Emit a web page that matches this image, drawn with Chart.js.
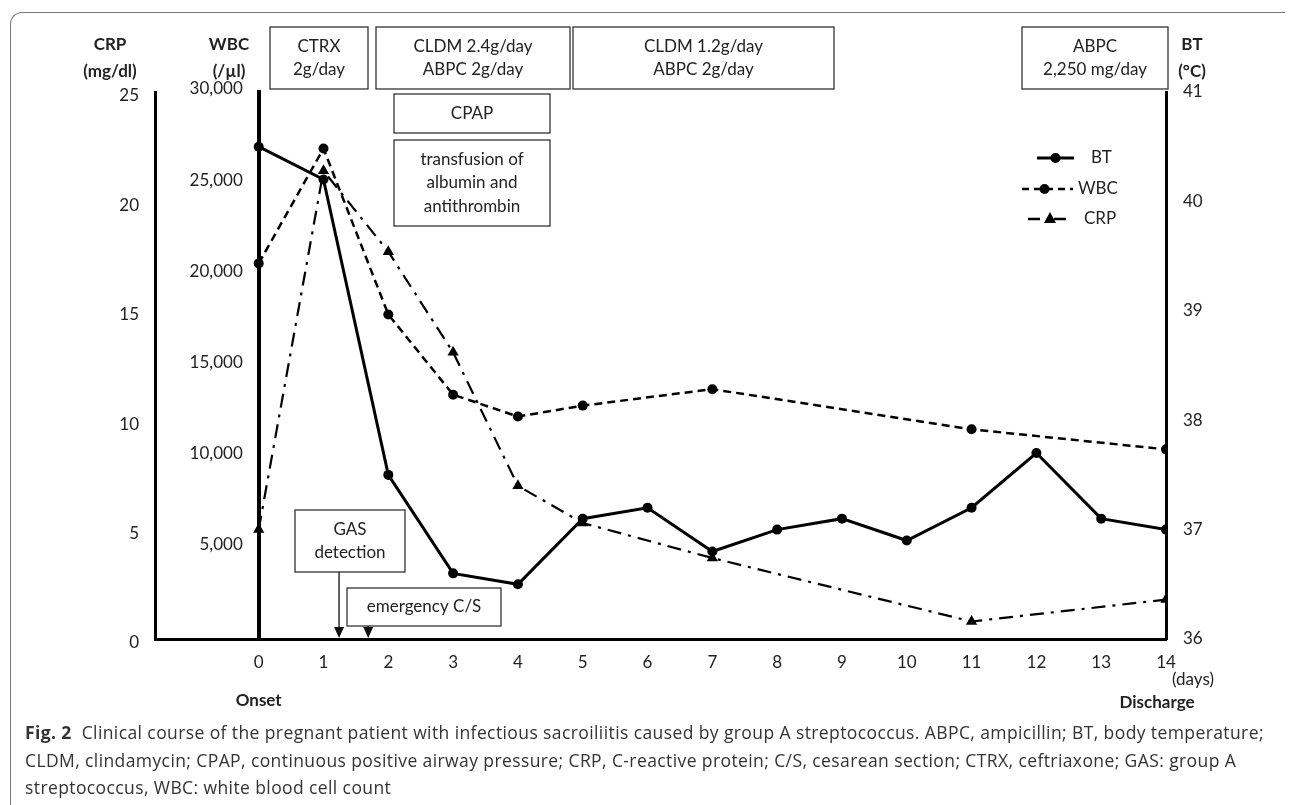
<!DOCTYPE html>
<html>
<head>
<meta charset="utf-8">
<script src="https://cdn.jsdelivr.net/npm/chart.js@4.4.0/dist/chart.umd.min.js"></script>
<style>
  body { margin: 0; background: #fff; }
  #fig { position: relative; width: 1290px; height: 805px; overflow: hidden; font-family: Lato, "Open Sans", sans-serif; }
  #frame { position: absolute; left: 10px; top: 12px; width: 1274px; height: 820px; border-top: 1.5px solid #777; border-left: 1.5px solid #777; border-top-left-radius: 12px; }
  #chart { position: absolute; left: 0; top: 0; }
  #caption { position: absolute; left: 25px; top: 719px; font-family: "Open Sans", sans-serif; font-size: 17.5px; letter-spacing: 0.4px; line-height: 27.5px; color: #333; white-space: nowrap; }
</style>
</head>
<body>
<div id="fig">
  <div id="frame"></div>
  <canvas id="chart" width="1290" height="720"></canvas>
  <div id="caption">
    <div><b>Fig. 2</b>&nbsp; Clinical course of the pregnant patient with infectious sacroiliitis caused by group A streptococcus. ABPC, ampicillin; BT, body temperature;</div>
    <div>CLDM, clindamycin; CPAP, continuous positive airway pressure; CRP, C-reactive protein; C/S, cesarean section; CTRX, ceftriaxone; GAS: group A</div>
    <div>streptococcus, WBC: white blood cell count</div>
  </div>
</div>
<script>
// days after onset
const days = [0, 1, 2, 3, 4, 5, 6, 7, 8, 9, 10, 11, 12, 13, 14];
// body temperature (°C)
const btValues = [40.5, 40.2, 37.5, 36.6, 36.5, 37.1, 37.2, 36.8, 37.0, 37.1, 36.9, 37.2, 37.7, 37.1, 37.0];
// white blood cells (/µl), null = not measured
const wbcValues = [20600, 26900, 17800, 13400, 12200, 12800, null, 13700, null, null, null, 11500, null, null, 10400];
// CRP (mg/dl)
const crpValues = [5.0, 21.4, 17.7, 13.1, 7.0, 5.3, null, 3.7, null, null, null, 0.8, null, null, 1.8];

const crpTicks = [0, 5, 10, 15, 20, 25];
const wbcTicks = [5000, 10000, 15000, 20000, 25000, 30000];
const btTicks = [36, 37, 38, 39, 40, 41];

const FONT = 'Lato, "Open Sans", sans-serif';
const TXT = '#222';

function points(vals) {
  return days.map((d, i) => ({ x: d, y: vals[i] })).filter(p => p.y !== null);
}

// boxes on top of the chart: x, y, w, h, lines
const boxes = [
  [270, 27, 98, 62, ['CTRX', '2g/day']],
  [376, 27, 194, 62, ['CLDM 2.4g/day', 'ABPC 2g/day']],
  [573, 27, 261, 62, ['CLDM 1.2g/day', 'ABPC 2g/day']],
  [1022, 27, 146, 62, ['ABPC', '2,250 mg/day']],
  [394, 94, 156, 39, ['CPAP']],
  [394, 140, 156, 86, ['transfusion of', 'albumin and', 'antithrombin']],
  [295, 510, 110, 62, ['GAS', 'detection']],
  [347, 588, 154, 38, ['emergency C/S']]
];

const extras = {
  id: 'extras',
  afterDraw(chart) {
    const ctx = chart.ctx;
    const xs = chart.scales.x;
    const bottom = chart.chartArea.bottom;
    ctx.save();
    ctx.textAlign = 'center';
    ctx.textBaseline = 'middle';

    // axis titles
    ctx.fillStyle = TXT;
    ctx.font = 'bold 17px ' + FONT;
    ctx.fillText('CRP', 110, 45);
    ctx.fillText('(mg/dl)', 110, 72);
    ctx.fillText('WBC', 229, 45);
    ctx.fillText('(/µl)', 229, 72);
    ctx.fillText('BT', 1192, 45);
    ctx.fillText('(°C)', 1192, 72);

    // boxes
    ctx.font = '17px ' + FONT;
    ctx.strokeStyle = '#333';
    ctx.lineWidth = 1.3;
    boxes.forEach(([x, y, w, h, lines]) => {
      ctx.fillStyle = '#fff';
      ctx.fillRect(x, y, w, h);
      ctx.strokeRect(x, y, w, h);
      ctx.fillStyle = TXT;
      const lh = 23.5;
      const y0 = y + h / 2 - (lines.length - 1) * lh / 2;
      lines.forEach((t, i) => ctx.fillText(t, x + w / 2, y0 + i * lh));
    });

    // arrows down to the x axis
    ctx.strokeStyle = '#111';
    ctx.fillStyle = '#111';
    ctx.lineWidth = 1.3;
    [[1.24, 572], [1.69, 626]].forEach(([d, y1]) => {
      const px = xs.getPixelForValue(d);
      ctx.beginPath();
      ctx.moveTo(px, y1);
      ctx.lineTo(px, bottom - 10);
      ctx.stroke();
      ctx.beginPath();
      ctx.moveTo(px - 5, bottom - 12);
      ctx.lineTo(px + 5, bottom - 12);
      ctx.lineTo(px, bottom - 1);
      ctx.closePath();
      ctx.fill();
    });

    // legend
    const leg = [
      ['BT', 158, [], 3, 'circle', 1037, 1074, 1091],
      ['WBC', 189, [7, 5], 2.5, 'circle', 1022, 1073, 1078],
      ['CRP', 219, [12, 14], 2.5, 'triangle', 1028, 1072, 1084]
    ];
    leg.forEach(([name, y, dash, lw, shape, x1, x2, tx]) => {
      ctx.strokeStyle = '#000';
      ctx.lineWidth = lw;
      ctx.setLineDash(dash);
      ctx.beginPath();
      ctx.moveTo(x1, y);
      ctx.lineTo(x2, y);
      ctx.stroke();
      ctx.setLineDash([]);
      const cx = (x1 + x2) / 2 + (name === 'WBC' ? -3 : 0);
      ctx.fillStyle = '#000';
      ctx.beginPath();
      if (shape === 'circle') {
        ctx.arc(cx, y, 5, 0, Math.PI * 2);
      } else {
        ctx.moveTo(cx, y - 7);
        ctx.lineTo(cx + 6, y + 4);
        ctx.lineTo(cx - 6, y + 4);
        ctx.closePath();
      }
      ctx.fill();
      ctx.fillStyle = TXT;
      ctx.textAlign = 'left';
      ctx.font = '17px ' + FONT;
      ctx.fillText(name, tx, y);
      ctx.textAlign = 'center';
    });

    // x labels
    ctx.fillStyle = TXT;
    ctx.font = '17px ' + FONT;
    ctx.textAlign = 'left';
    ctx.fillText('(days)', 1172, 680);
    ctx.textAlign = 'center';
    ctx.font = 'bold 17px ' + FONT;
    ctx.fillText('Onset', xs.getPixelForValue(0), 701);
    ctx.fillText('Discharge', 1157, 703);
    ctx.restore();
  }
};

const tickFont = { family: FONT, size: 17 };
const noGrid = { display: false, drawTicks: false };

new Chart(document.getElementById('chart'), {
  type: 'line',
  data: {
    datasets: [
      {
        label: 'BT',
        data: points(btValues),
        yAxisID: 'yBT',
        borderColor: '#000',
        backgroundColor: '#000',
        borderWidth: 3,
        pointRadius: 5,
        pointBorderWidth: 0,
        tension: 0
      },
      {
        label: 'WBC',
        data: points(wbcValues),
        yAxisID: 'yWBC',
        borderColor: '#000',
        backgroundColor: '#000',
        borderWidth: 2.5,
        borderDash: [8, 5],
        pointRadius: 5,
        pointBorderWidth: 0,
        tension: 0
      },
      {
        label: 'CRP',
        data: points(crpValues),
        yAxisID: 'yCRP',
        borderColor: '#000',
        backgroundColor: '#000',
        borderWidth: 2.2,
        borderDash: [14, 7, 3, 7],
        pointStyle: 'triangle',
        pointRadius: 6.5,
        pointBorderWidth: 0,
        tension: 0
      }
    ]
  },
  options: {
    responsive: false,
    animation: false,
    layout: { padding: { top: 92 } },
    plugins: { legend: { display: false }, tooltip: { enabled: false } },
    scales: {
      x: {
        type: 'linear',
        min: -1.6,
        max: 14,
        afterBuildTicks: s => { s.ticks = days.map(v => ({ value: v })); },
        afterFit: s => { s.height = 81; },
        grid: noGrid,
        border: { display: true, width: 3, color: '#000' },
        ticks: { padding: 13, font: tickFont, color: TXT, maxRotation: 0, autoSkip: false }
      },
      yCRP: {
        position: 'left',
        min: 0,
        max: 25,
        afterBuildTicks: s => { s.ticks = crpTicks.map(v => ({ value: v })); },
        afterFit: s => { s.width = 155; },
        grid: noGrid,
        border: { display: true, width: 3, color: '#000' },
        ticks: { padding: 16, labelOffset: 4, font: tickFont, color: TXT }
      },
      yWBC: {
        position: { x: 0 },
        min: 0,
        max: 30000,
        afterBuildTicks: s => { s.ticks = wbcTicks.map(v => ({ value: v })); },
        grid: noGrid,
        border: { display: true, width: 4, color: '#000' },
        // labels sit left of the day-0 axis; the trailing spaces keep them off the line
        ticks: { labelOffset: -3, font: tickFont, color: TXT, callback: v => v.toLocaleString('en-US') + '\u2003\u2009\u200a' }
      },
      yBT: {
        position: 'right',
        min: 36,
        max: 41,
        afterBuildTicks: s => { s.ticks = btTicks.map(v => ({ value: v })); },
        afterFit: s => { s.width = 124; },
        grid: noGrid,
        border: { display: true, width: 3, color: '#000' },
        ticks: { padding: 17, font: tickFont, color: TXT }
      }
    }
  },
  plugins: [extras]
});
</script>
</body>
</html>
